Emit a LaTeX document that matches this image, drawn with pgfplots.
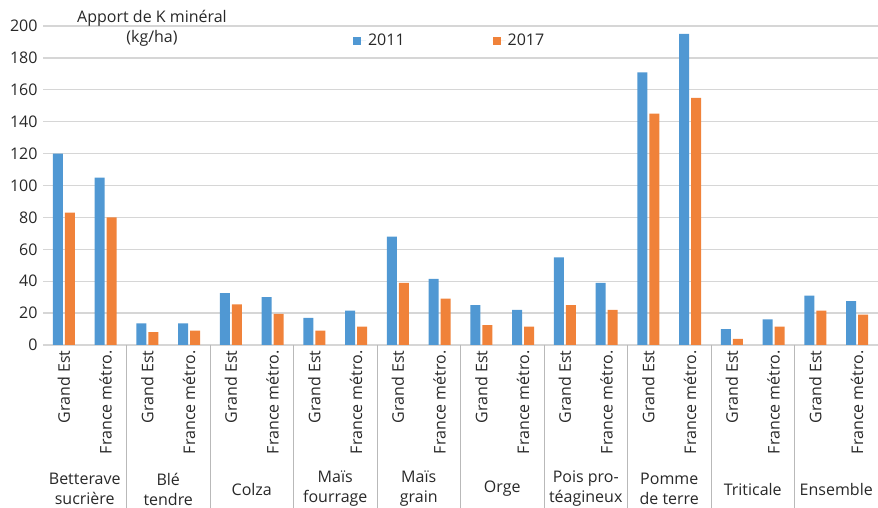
\documentclass[border=0pt]{standalone}
\usepackage{fontspec}
\setmainfont{Open Sans}
\usepackage{pgfplots}
\pgfplotsset{compat=1.18}
\definecolor{cblue}{RGB}{80,152,211}
\definecolor{corange}{RGB}{240,130,58}
\definecolor{gridgray}{RGB}{214,214,214}
\definecolor{sepgray}{RGB}{185,185,185}
\definecolor{txt}{RGB}{40,40,40}
\begin{document}
\fontsize{16}{20}\selectfont
\begin{tikzpicture}[x=1pt,y=1pt]
\useasboundingbox (0,0) rectangle (878,508);
\begin{axis}[
  at={(43pt,163pt)}, anchor=south west,
  scale only axis, width=835pt, height=319pt,
  ymin=0, ymax=200, ytick={0,20,...,200},
  xmin=-0.5, xmax=19.5,
  ybar=2pt, bar width=10pt,
  xtick={0,...,19},
  xticklabels={Grand Est, France métro., Grand Est, France métro., Grand Est, France métro., Grand Est, France métro., Grand Est, France métro., Grand Est, France métro., Grand Est, France métro., Grand Est, France métro., Grand Est, France métro., Grand Est, France métro.},
  xticklabel style={rotate=90, anchor=east, font=\fontsize{16}{20}\selectfont, text=txt},
  yticklabel style={font=\fontsize{16}{20}\selectfont, text=txt},
  /pgf/number format/assume math mode=true,
  major tick length=0pt,
  axis line style={draw=none},
  ymajorgrids, major grid style={gridgray, line width=1.3pt},
  clip=false,
  legend style={at={(0.487,0.953)}, anchor=center, draw=none, fill=none,
    font=\fontsize{16}{20}\selectfont, text=txt,
    legend columns=2, /tikz/every even column/.append style={column sep=86pt}},
]
\addplot[fill=cblue, draw=none, legend image code/.code={\fill[cblue] (0pt,-4pt) rectangle (8pt,4pt); \path (0pt,0pt) -- (13pt,0pt);}] coordinates {
(0,120) (1,105) (2,13.5) (3,13.5) (4,32.5) (5,30) (6,17) (7,21.5) (8,68) (9,41.5)
(10,25) (11,22) (12,55) (13,39) (14,171) (15,195) (16,10) (17,16) (18,31) (19,27.5)};
\addlegendentry{2011}
\addplot[fill=corange, draw=none, legend image code/.code={\fill[corange] (0pt,-4pt) rectangle (8pt,4pt); \path (0pt,0pt) -- (13pt,0pt);}] coordinates {
(0,83) (1,80) (2,8) (3,9) (4,25.5) (5,19.5) (6,9) (7,11.5) (8,39) (9,29)
(10,12.5) (11,11.5) (12,25) (13,22) (14,145) (15,155) (16,3.8) (17,11.5) (18,21.5) (19,19)};
\addlegendentry{2017}
\pgfplotsinvokeforeach{1.5,3.5,5.5,7.5,9.5,11.5,13.5,15.5,17.5}{
  \draw[sepgray, line width=0.9pt] (axis cs:#1,0) -- ++(0pt,-170pt);
}
\begin{scope}[every node/.style={align=center, text=txt, font=\fontsize{16}{20}\selectfont}]
\node at (axis cs:0.5,0) [yshift=-144pt] {Betterave\\sucrière};
\node at (axis cs:2.5,0) [yshift=-144pt] {Blé\\tendre};
\node at (axis cs:4.5,0) [yshift=-144pt] {Colza};
\node at (axis cs:6.5,0) [yshift=-144pt] {Maïs\\fourrage};
\node at (axis cs:8.5,0) [yshift=-144pt] {Maïs\\grain};
\node at (axis cs:10.5,0) [yshift=-144pt] {Orge};
\node at (axis cs:12.5,0) [yshift=-144pt] {Pois pro-\\téagineux};
\node at (axis cs:14.5,0) [yshift=-144pt] {Pomme\\de terre};
\node at (axis cs:16.5,0) [yshift=-144pt] {Triticale};
\node at (axis cs:18.5,0) [yshift=-144pt] {Ensemble};
\end{scope}
\end{axis}
\node[align=center, text=txt, font=\fontsize{16}{20}\selectfont] at (152,480) {Apport de K minéral\\(kg/ha)};
\end{tikzpicture}
\end{document}
